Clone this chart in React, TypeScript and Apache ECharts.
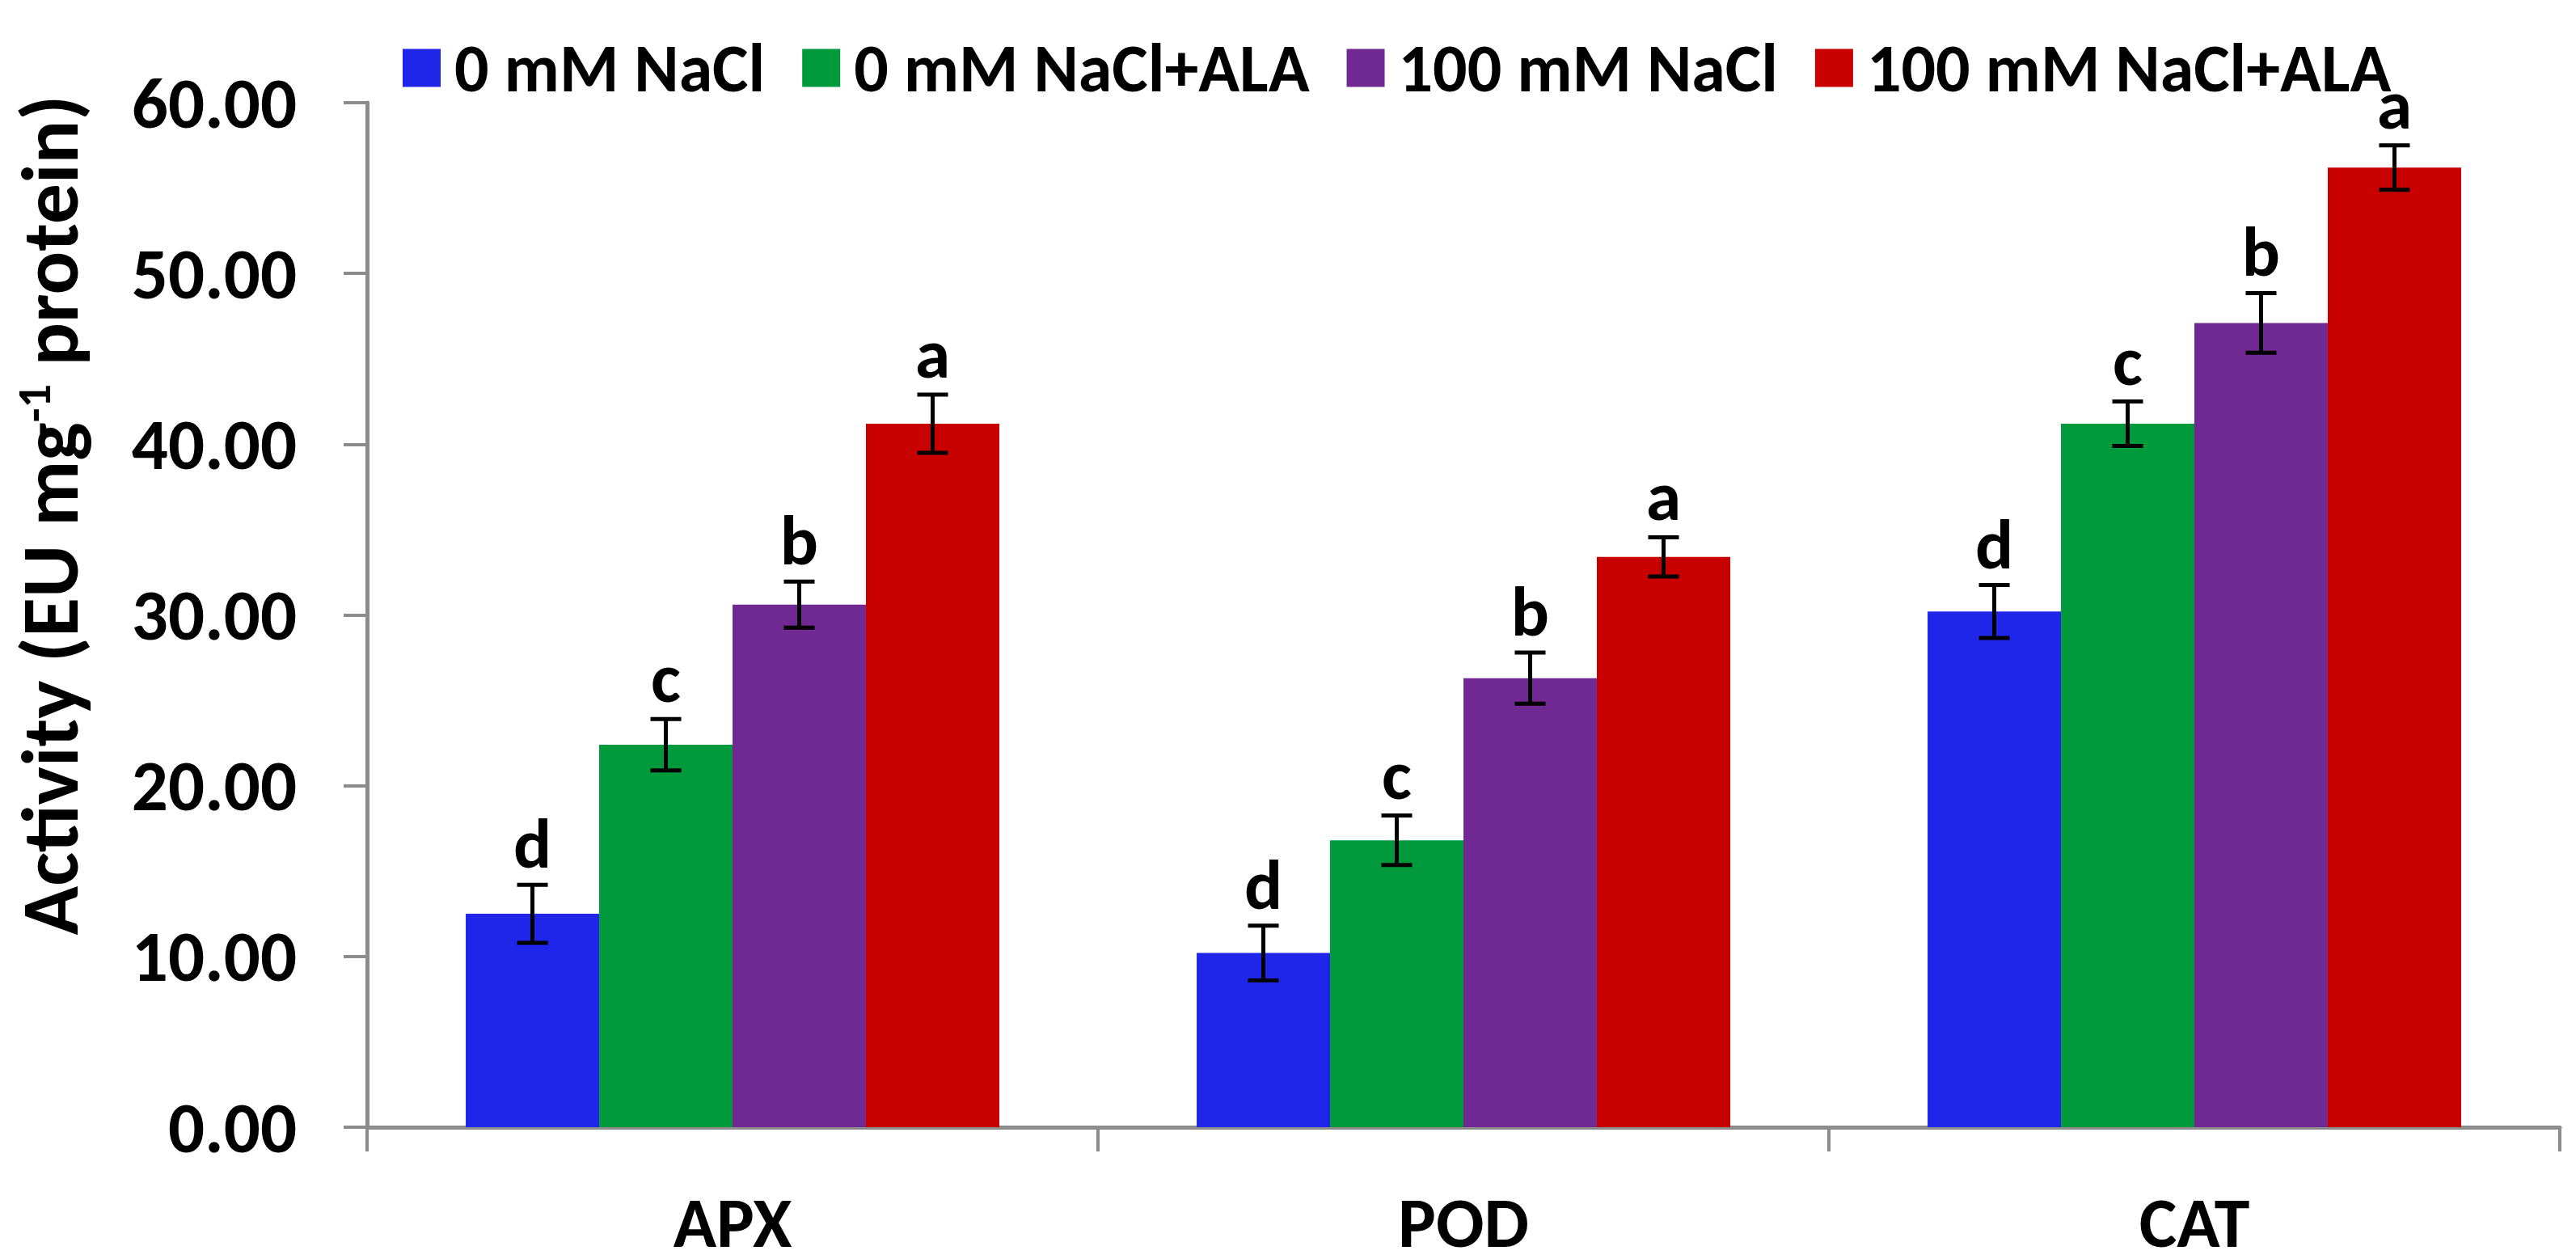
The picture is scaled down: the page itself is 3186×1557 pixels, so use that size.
import { useRef, useEffect } from 'react'
import * as echarts from 'echarts'

const categories = ['APX', 'POD', 'CAT'];
const seriesNames = ['0 mM NaCl', '0 mM NaCl+ALA', '100 mM NaCl', '100 mM NaCl+ALA'];
const colors = ['#1F26EA', '#009A3D', '#702892', '#C80000'];

const ctrl = [12.5, 10.2, 30.2];
const ctrlErr = [1.7, 1.6, 1.55];
const ctrlLetters = ['d', 'd', 'd'];
const ctrlAla = [22.4, 16.8, 41.2];
const ctrlAlaErr = [1.5, 1.45, 1.3];
const ctrlAlaLetters = ['c', 'c', 'c'];
const salt = [30.6, 26.3, 47.1];
const saltErr = [1.35, 1.5, 1.75];
const saltLetters = ['b', 'b', 'b'];
const saltAla = [41.2, 33.4, 56.2];
const saltAlaErr = [1.7, 1.15, 1.3];
const saltAlaLetters = ['a', 'a', 'a'];

const yTicks = [0, 10, 20, 30, 40, 50, 60];

const FONT = "Carlito, Calibri, 'Liberation Sans Narrow', Roboto, sans-serif";
const AXIS_GRAY = '#8C8C8C';
const CAT_GAP = 0.27;

function App() {
  const chartRef = useRef<HTMLDivElement>(null);

  useEffect(() => {
    document.body.style.margin = '0';
    if (!chartRef.current) return;
    const myChart = echarts.init(chartRef.current, null, { renderer: 'svg' });

    const groups = [
      { values: ctrl, errs: ctrlErr, letters: ctrlLetters },
      { values: ctrlAla, errs: ctrlAlaErr, letters: ctrlAlaLetters },
      { values: salt, errs: saltErr, letters: saltLetters },
      { values: saltAla, errs: saltAlaErr, letters: saltAlaLetters },
    ];

    const bars = groups.map((g, i) => ({
      name: seriesNames[i],
      type: 'bar',
      data: g.values,
      barGap: '0%',
      barCategoryGap: CAT_GAP * 100 + '%',
      itemStyle: { color: colors[i] },
    }));

    // error bars + significance letters
    const errs = groups.map((g, i) => ({
      name: seriesNames[i] + ' err',
      type: 'custom',
      z: 5,
      data: g.values.map((v, k) => [k, v, g.errs[k], g.letters[k]]),
      encode: { x: 0, y: 1 },
      renderItem: (params: any, api: any) => {
        const k = api.value(0);
        const v = api.value(1);
        const e = api.value(2);
        const band = api.size([1, 0])[0];
        const bw = (band * (1 - CAT_GAP)) / 4;
        const center = api.coord([k, v]);
        const x = center[0] + (i - 1.5) * bw;
        const top = api.coord([k, v + e])[1];
        const bot = api.coord([k, v - e])[1];
        const cap = 19;
        const ls = { stroke: '#000', lineWidth: 5 };
        return {
          type: 'group',
          children: [
            { type: 'line', shape: { x1: x, y1: top, x2: x, y2: bot }, style: ls },
            { type: 'line', shape: { x1: x - cap, y1: top, x2: x + cap, y2: top }, style: ls },
            { type: 'line', shape: { x1: x - cap, y1: bot, x2: x + cap, y2: bot }, style: ls },
            {
              type: 'text',
              style: {
                text: g.letters[k],
                x: x,
                y: top - 51,
                align: 'center',
                verticalAlign: 'middle',
                fill: '#000',
                fontSize: 88,
                lineHeight: 60,
                fontWeight: 'bold',
                fontFamily: FONT,
              },
            },
          ],
        };
      },
    }));

    const option = {
      animation: false,
      backgroundColor: '#fff',
      legend: {
        data: seriesNames,
        left: 493,
        top: 37,
        itemWidth: 47,
        itemHeight: 47,
        itemGap: 46,
        icon: 'rect',
        textStyle: {
          fontSize: 84,
          fontWeight: 'bold',
          fontFamily: FONT,
          color: '#000',
          lineHeight: 50,
          padding: [0, 0, 0, 12],
        },
      },
      grid: { left: 454, right: 20, top: 127, bottom: 163, containLabel: false },
      xAxis: {
        type: 'category',
        data: categories,
        axisLine: { lineStyle: { color: AXIS_GRAY, width: 5 } },
        axisTick: { show: true, length: 30, lineStyle: { color: AXIS_GRAY, width: 4 } },
        axisLabel: {
          margin: 83,
          fontSize: 88,
          lineHeight: 70,
          fontWeight: 'bold',
          fontFamily: FONT,
          color: '#000',
        },
        splitLine: { show: false },
      },
      yAxis: {
        type: 'value',
        min: yTicks[0],
        max: yTicks[yTicks.length - 1],
        interval: yTicks[1] - yTicks[0],
        axisLine: { show: true, lineStyle: { color: AXIS_GRAY, width: 5 } },
        axisTick: { show: true, length: 29, lineStyle: { color: AXIS_GRAY, width: 4 } },
        axisLabel: {
          margin: 87,
          fontSize: 89,
          fontWeight: 'bold',
          fontFamily: FONT,
          color: '#000',
          formatter: (v: number) => v.toFixed(2),
        },
        splitLine: { show: false },
      },
      graphic: [
        {
          type: 'text',
          x: 62,
          y: 637,
          rotation: Math.PI / 2,
          style: {
            text: '{a|Activity (EU mg}{s|-1}{a| protein)}',
            align: 'center',
            verticalAlign: 'middle',
            fill: '#000',
            rich: {
              a: { fontSize: 100, fontWeight: 'bold', fontFamily: FONT, lineHeight: 98 },
              s: { fontSize: 58, fontWeight: 'bold', fontFamily: FONT, lineHeight: 58, verticalAlign: 'top' },
            },
          },
        },
      ],
      series: [...bars, ...errs],
    };
    myChart.setOption(option);

    const handleResize = () => {
      myChart.resize();
    };
    window.addEventListener('resize', handleResize);

    return () => {
      window.removeEventListener('resize', handleResize);
      myChart.dispose();
    };
  }, []);

  return (
    <div ref={chartRef} style={{ width: '3186px', height: '1557px' }}></div>
  )
}

export default App
